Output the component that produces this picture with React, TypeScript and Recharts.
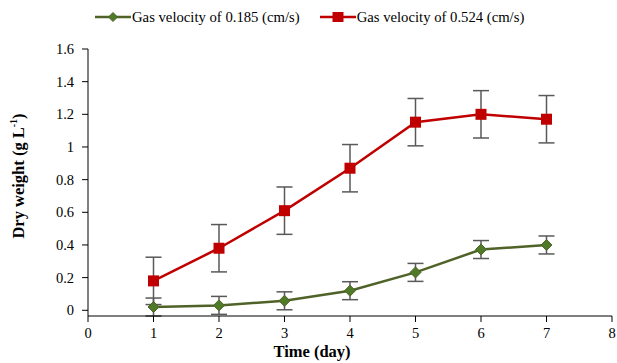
import React from "react";
import { LineChart, Line, XAxis, YAxis, ErrorBar } from "recharts";

const days = [1, 2, 3, 4, 5, 6, 7];
const lowVelocity = [0.02, 0.03, 0.058, 0.12, 0.232, 0.372, 0.4];
const lowVelocityErr = [0.055, 0.055, 0.055, 0.055, 0.055, 0.055, 0.055];
const highVelocity = [0.18, 0.38, 0.61, 0.87, 1.152, 1.2, 1.17];
const highVelocityErr = [0.145, 0.145, 0.145, 0.145, 0.145, 0.145, 0.145];
const xTicks = [0, 1, 2, 3, 4, 5, 6, 7, 8];
const yTicks = [0, 0.2, 0.4, 0.6, 0.8, 1, 1.2, 1.4, 1.6];
const lowName = "Gas velocity of 0.185 (cm/s)";
const highName = "Gas velocity of 0.524 (cm/s)";

const data = days.map((d, i) => ({
  day: d,
  low: lowVelocity[i],
  lowErr: lowVelocityErr[i],
  high: highVelocity[i],
  highErr: highVelocityErr[i],
}));

const GREEN = "#4F6228";
const GREEN_FILL = "#4F7A28";
const RED = "#C00000";
const FONT = "Liberation Serif, Times New Roman, serif";

const Diamond = (props: any) => {
  const { cx, cy } = props;
  if (cx == null || cy == null) return null;
  const r = 5.5;
  return (
    <path
      key={`d-${cx}`}
      d={`M${cx},${cy - r}L${cx + r},${cy}L${cx},${cy + r}L${cx - r},${cy}Z`}
      fill={GREEN_FILL}
      stroke={GREEN}
      strokeWidth={1}
    />
  );
};

const Square = (props: any) => {
  const { cx, cy } = props;
  if (cx == null || cy == null) return null;
  const s = 11;
  return <rect key={`s-${cx}`} x={cx - s / 2} y={cy - s / 2} width={s} height={s} fill={RED} />;
};

const LegendBox = () => (
  <div
    style={{
      position: "absolute",
      left: 0,
      top: 7,
      display: "flex",
      fontFamily: FONT,
      fontSize: 14.7,
      color: "#000",
      height: 20,
      alignItems: "center",
      paddingLeft: 95,
      whiteSpace: "nowrap",
    }}
  >
    <svg width={36} height={12} style={{ marginRight: 1 }}>
      <line x1={0} y1={6} x2={36} y2={6} stroke={GREEN} strokeWidth={2.5} />
      <path d="M18,1.5L22.5,6L18,10.5L13.5,6Z" fill={GREEN_FILL} stroke={GREEN} />
    </svg>
    <span>{lowName}</span>
    <svg width={36} height={12} style={{ marginLeft: 20, marginRight: 1 }}>
      <line x1={0} y1={6} x2={36} y2={6} stroke={RED} strokeWidth={2.5} />
      <rect x={12.5} y={1} width={11} height={10} fill={RED} />
    </svg>
    <span>{highName}</span>
  </div>
);

const YLabel = () => (
  <text
    x={24}
    y={176}
    transform="rotate(-90 24 176)"
    textAnchor="middle"
    fontFamily={FONT}
    fontSize={16.5}
    fontWeight="bold"
    fill="#000"
  >
    Dry weight (g L
    <tspan fontSize={10} dy={-7}>-1</tspan>
    <tspan dy={7}>)</tspan>
  </text>
);

const XLabel = () => (
  <text x={312} y={357} textAnchor="middle" fontFamily={FONT} fontSize={16.5} fontWeight="bold" fill="#000">
    Time (day)
  </text>
);

const XTick = (props: any) => {
  const { x, y, payload } = props;
  return (
    <text x={x} y={y + 13} textAnchor="middle" fontFamily={FONT} fontSize={14.5} fill="#000">
      {payload.value}
    </text>
  );
};

const YTick = (props: any) => {
  const { x, y, payload } = props;
  return (
    <text x={x - 5} y={y + 5} textAnchor="end" fontFamily={FONT} fontSize={14.5} fill="#000">
      {payload.value}
    </text>
  );
};

export default function App() {
  return (
    <div style={{ position: "absolute", left: 0, top: 0, width: 617, height: 363, background: "#fff" }}>
      <LineChart
        width={617}
        height={363}
        data={data}
        margin={{ top: 49, right: 5, bottom: 5, left: 20 }}
        style={{ fontFamily: FONT }}
      >
        <XAxis
          dataKey="day"
          type="number"
          domain={[0, 8]}
          ticks={xTicks}
          height={42}
          tickSize={6}
          stroke="#000"
          tick={<XTick />}
          tickMargin={3}
          axisLine={{ stroke: "#000", strokeWidth: 1 }}
          label={<XLabel />}
        />
        <YAxis
          type="number"
          domain={[0, 1.6]}
          ticks={yTicks}
          width={68}
          tickSize={6}
          stroke="#000"
          tick={<YTick />}
          tickMargin={3}
          axisLine={{ stroke: "#000", strokeWidth: 1 }}
          label={<YLabel />}
        />
        <Line
          dataKey="high"
          name={highName}
          stroke={RED}
          strokeWidth={2.5}
          dot={<Square />}
          activeDot={false}
          isAnimationActive={false}
        >
          <ErrorBar dataKey="highErr" width={8} stroke="#595959" strokeWidth={1.5} direction="y" />
        </Line>
        <Line
          dataKey="low"
          name={lowName}
          stroke={GREEN}
          strokeWidth={2.5}
          dot={<Diamond />}
          activeDot={false}
          isAnimationActive={false}
        >
          <ErrorBar dataKey="lowErr" width={8} stroke="#595959" strokeWidth={1.5} direction="y" />
        </Line>
      </LineChart>
      <LegendBox />
    </div>
  );
}
